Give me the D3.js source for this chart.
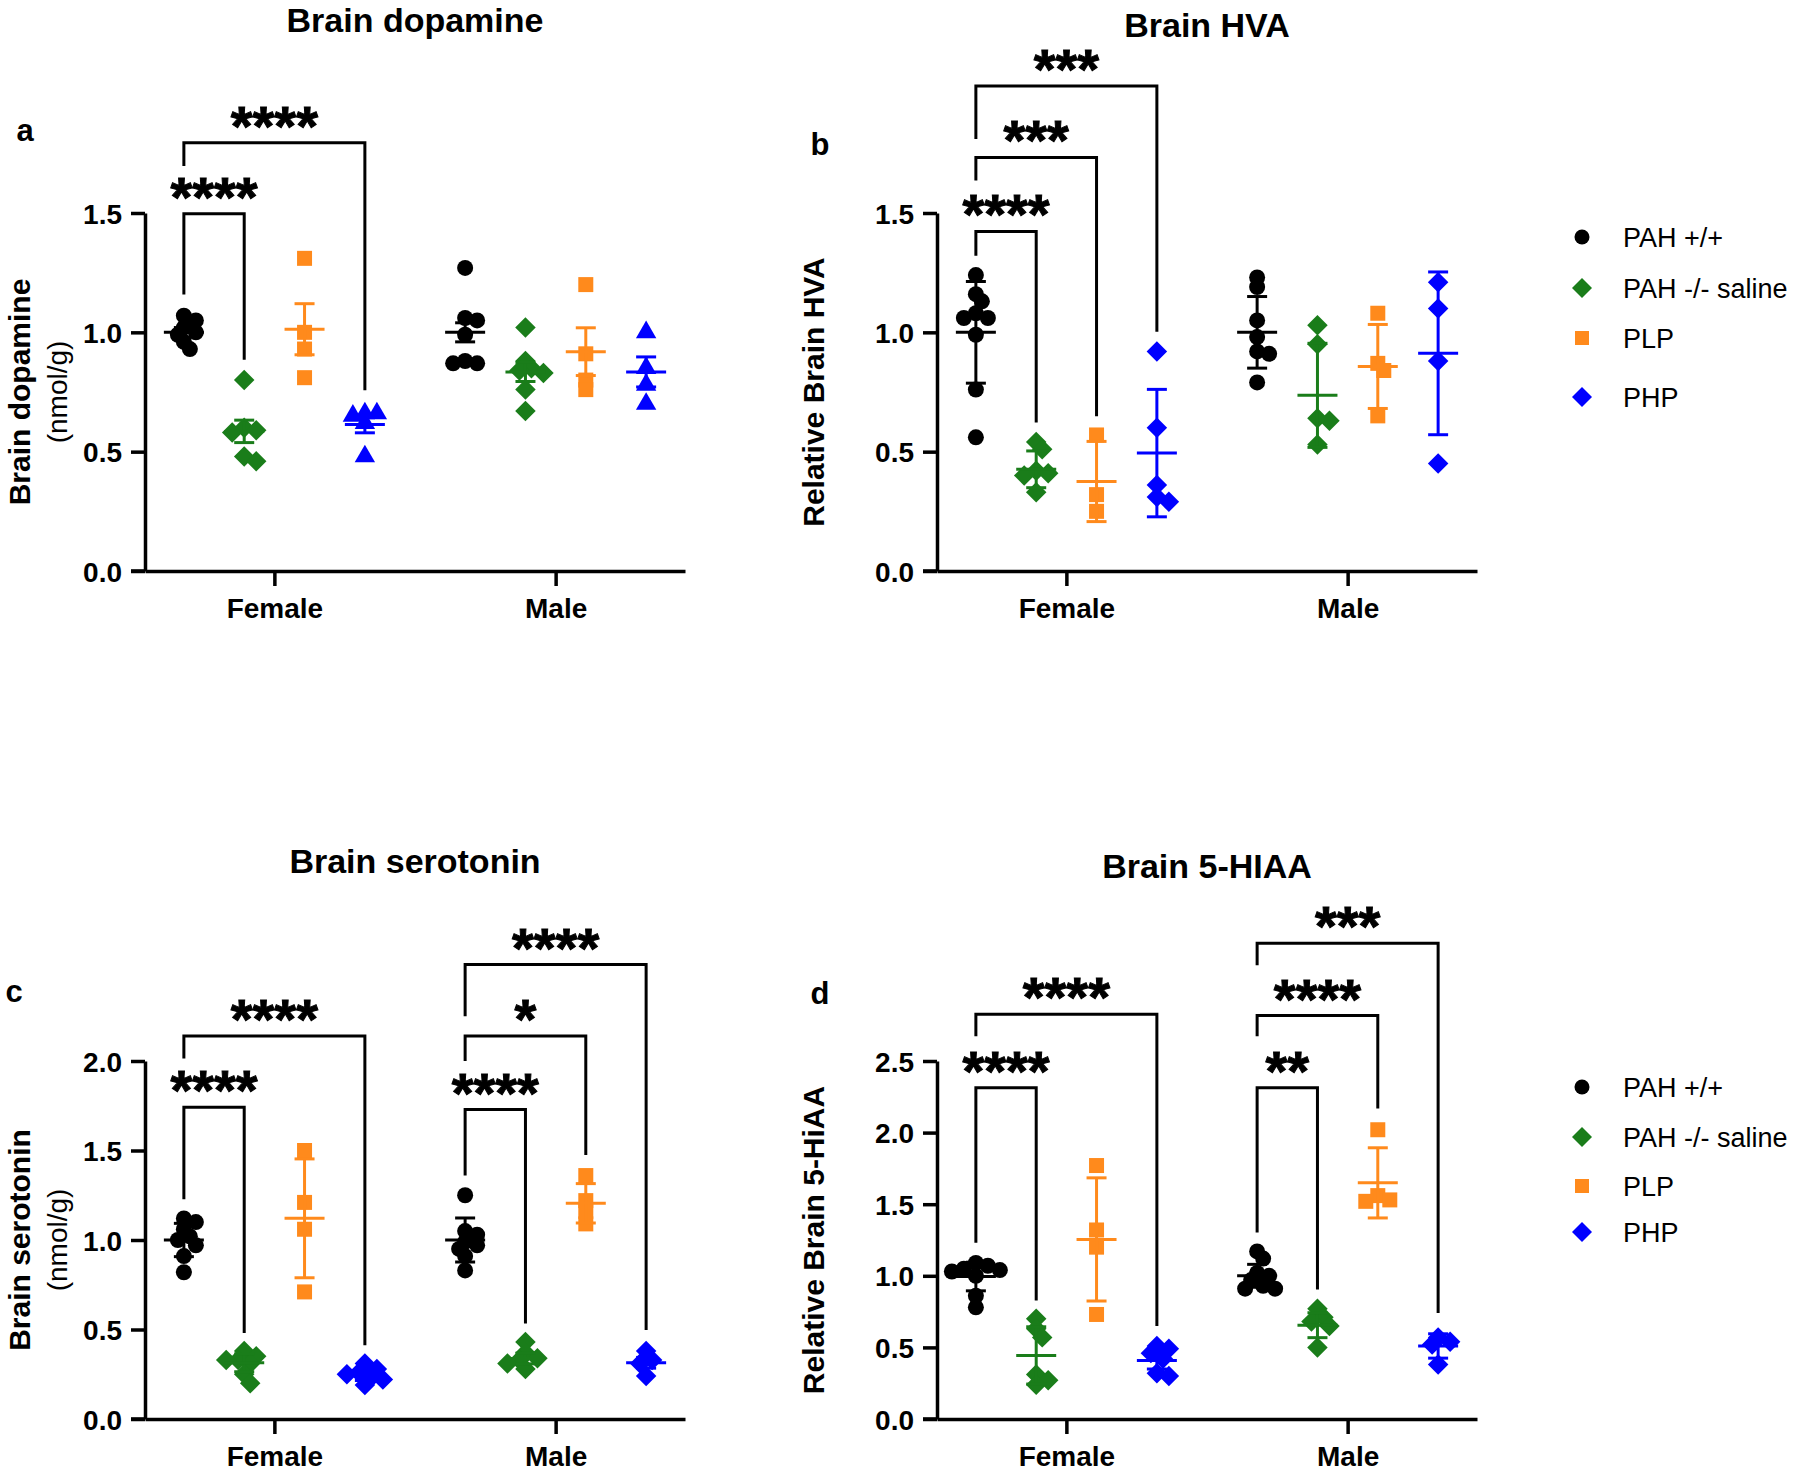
<!DOCTYPE html>
<html><head><meta charset="utf-8">
<script src="https://cdn.jsdelivr.net/npm/d3@7"></script>
<style>
body{margin:0;background:#fff;}
svg{display:block;}
text{font-family:"Liberation Sans", Arial, Helvetica, sans-serif;}
</style>
</head><body>
<svg id="chart" width="1800" height="1471"></svg>
<script>
// ---------------- DATA ----------------
const sexes = ["Female", "Male"];
const groups = ["PAH +/+", "PAH -/- saline", "PLP", "PHP"];
const groupColors = ["#000000", "#1a7d1a", "#ff8a1c", "#0000ff"];

// Panel a – Brain dopamine (nmol/g)
const dopamineFemale = [
  [1.07, 1.05, 1.02, 1.00, 0.99, 0.96, 0.93],
  [0.80, 0.60, 0.59, 0.58, 0.48, 0.46],
  [1.31, 1.00, 0.93, 0.81],
  [0.66, 0.66, 0.65, 0.62, 0.48]
];
const dopamineMale = [
  [1.27, 1.06, 1.05, 0.99, 0.88, 0.87, 0.87],
  [1.02, 0.88, 0.85, 0.84, 0.83, 0.76, 0.67],
  [1.20, 0.91, 0.80, 0.76],
  [1.00, 0.85, 0.78, 0.70]
];
const dopamineMean = [[1.00, 0.585, 1.013, 0.614], [1.00, 0.834, 0.919, 0.834]];
const dopamineErr  = [[0.02, 0.047, 0.107, 0.035], [0.04, 0.04, 0.10, 0.063]];
const dopamineTicks = [0, 0.5, 1.0, 1.5];
const dopamineBrackets = [
  {sex: "Female", from: 0, to: 1, label: "****", top: 1.497, l: 1.158, r: 0.885},
  {sex: "Female", from: 0, to: 3, label: "****", top: 1.794, l: 1.697, r: 0.757}
];

// Panel b – Relative brain HVA
const hvaFemale = [
  [1.24, 1.16, 1.13, 1.08, 1.06, 1.06, 0.99, 0.76, 0.56],
  [0.54, 0.51, 0.42, 0.41, 0.40, 0.33],
  [0.57, 0.32, 0.25],
  [0.92, 0.60, 0.36, 0.31, 0.29]
];
const hvaMale = [
  [1.23, 1.19, 1.05, 0.98, 0.92, 0.91, 0.79],
  [1.03, 0.95, 0.64, 0.63, 0.53],
  [1.08, 0.87, 0.84, 0.65],
  [1.21, 1.10, 0.88, 0.45]
];
const hvaMean = [[1.00, 0.426, 0.375, 0.494], [1.00, 0.736, 0.857, 0.912]];
const hvaErr  = [[0.213, 0.077, 0.168, 0.267], [0.15, 0.218, 0.176, 0.341]];
const hvaTicks = [0, 0.5, 1.0, 1.5];
const hvaBrackets = [
  {sex: "Female", from: 0, to: 1, label: "****", top: 1.423, l: 1.321, r: 0.622},
  {sex: "Female", from: 0, to: 2, label: "***",  top: 1.733, l: 1.636, r: 0.648},
  {sex: "Female", from: 0, to: 3, label: "***",  top: 2.032, l: 1.810, r: 1.002}
];

// Panel c – Brain serotonin (nmol/g)
const serotoninFemale = [
  [1.12, 1.10, 1.06, 1.02, 1.00, 0.97, 0.91, 0.82],
  [0.38, 0.35, 0.33, 0.33, 0.31, 0.25, 0.20],
  [1.50, 1.21, 1.06, 0.71],
  [0.31, 0.28, 0.26, 0.25, 0.23, 0.22, 0.19]
];
const serotoninMale = [
  [1.25, 1.05, 1.03, 0.99, 0.97, 0.95, 0.91, 0.83],
  [0.43, 0.37, 0.34, 0.33, 0.31, 0.28],
  [1.36, 1.22, 1.16, 1.09],
  [0.38, 0.33, 0.31, 0.24]
];
const serotoninMean = [[1.00, 0.314, 1.121, 0.245], [1.00, 0.338, 1.205, 0.314]];
const serotoninErr  = [[0.093, 0.05, 0.332, 0.03], [0.123, 0.03, 0.11, 0.03]];
const serotoninTicks = [0, 0.5, 1.0, 1.5, 2.0];
const serotoninBrackets = [
  {sex: "Female", from: 0, to: 1, label: "****", top: 1.741, l: 1.228, r: 0.481},
  {sex: "Female", from: 0, to: 3, label: "****", top: 2.139, l: 2.014, r: 0.412},
  {sex: "Male",   from: 0, to: 1, label: "****", top: 1.729, l: 1.360, r: 0.534},
  {sex: "Male",   from: 0, to: 2, label: "*",    top: 2.139, l: 2.000, r: 1.475},
  {sex: "Male",   from: 0, to: 3, label: "****", top: 2.539, l: 2.250, r: 0.497}
];

// Panel d – Relative brain 5-HIAA
const hiaaFemale = [
  [1.09, 1.07, 1.05, 1.04, 1.03, 1.00, 0.86, 0.78],
  [0.70, 0.63, 0.57, 0.31, 0.27, 0.24],
  [1.77, 1.32, 1.20, 0.73],
  [0.51, 0.49, 0.46, 0.42, 0.32, 0.30]
];
const hiaaMale = [
  [1.17, 1.12, 1.02, 1.00, 0.97, 0.93, 0.91, 0.91],
  [0.77, 0.71, 0.68, 0.65, 0.50],
  [2.02, 1.56, 1.53, 1.52],
  [0.57, 0.54, 0.52, 0.38]
];
const hiaaMean = [[0.995, 0.444, 1.254, 0.409], [1.00, 0.655, 1.649, 0.51]];
const hiaaErr  = [[0.10, 0.20, 0.43, 0.06], [0.08, 0.087, 0.245, 0.085]];
const hiaaTicks = [0, 0.5, 1.0, 1.5, 2.0, 2.5];
const hiaaBrackets = [
  {sex: "Female", from: 0, to: 1, label: "****", top: 2.313, l: 1.231, r: 0.828},
  {sex: "Female", from: 0, to: 3, label: "****", top: 2.826, l: 2.673, r: 0.649},
  {sex: "Male",   from: 0, to: 1, label: "**",   top: 2.313, l: 1.303, r: 0.905},
  {sex: "Male",   from: 0, to: 2, label: "****", top: 2.817, l: 2.673, r: 2.168},
  {sex: "Male",   from: 0, to: 3, label: "***",  top: 3.322, l: 3.169, r: 0.741}
];

// ---------------- LAYOUT ----------------
const FONT = '"Liberation Sans", Arial, Helvetica, sans-serif';
const panels = [
  {letter: "a", title: "Brain dopamine", ylab: ["Brain dopamine", "(nmol/g)"],
   data: [dopamineFemale, dopamineMale], mean: dopamineMean, err: dopamineErr,
   ticks: dopamineTicks, brackets: dopamineBrackets,
   L: 145, y0: 571, yTop: 213, letterPos: [25, 131], titleY: 20, shapes: ["circle", "diamond", "square", "triangle"]},
  {letter: "b", title: "Brain HVA", ylab: ["Relative Brain HVA"],
   data: [hvaFemale, hvaMale], mean: hvaMean, err: hvaErr,
   ticks: hvaTicks, brackets: hvaBrackets,
   L: 937, y0: 571, yTop: 213, letterPos: [820, 145], titleY: 25, shapes: ["circle", "diamond", "square", "diamond"]},
  {letter: "c", title: "Brain serotonin", ylab: ["Brain serotonin", "(nmol/g)"],
   data: [serotoninFemale, serotoninMale], mean: serotoninMean, err: serotoninErr,
   ticks: serotoninTicks, brackets: serotoninBrackets,
   L: 145, y0: 1419, yTop: 1061, letterPos: [14, 992], titleY: 861, shapes: ["circle", "diamond", "square", "diamond"]},
  {letter: "d", title: "Brain 5-HIAA", ylab: ["Relative Brain 5-HiAA"],
   data: [hiaaFemale, hiaaMale], mean: hiaaMean, err: hiaaErr,
   ticks: hiaaTicks, brackets: hiaaBrackets,
   L: 937, y0: 1419, yTop: 1061, letterPos: [820, 994], titleY: 866, shapes: ["circle", "diamond", "square", "diamond"]}
];
const legends = [
  {x: 1582, ys: [237, 288, 338, 397], shapes: ["circle", "diamond", "square", "diamond"]},
  {x: 1582, ys: [1087, 1137, 1186, 1232], shapes: ["circle", "diamond", "square", "diamond"]}
];
const AXW = 540;
const STAR_FS = 56;

const svg = d3.select("#chart");
svg.append("rect").attr("width", 1800).attr("height", 1471).attr("fill", "#fff");

function symbolPath(shape) {
  if (shape === "circle") return d3.symbol(d3.symbolCircle, Math.PI * 8 * 8)();
  if (shape === "square") return d3.symbol(d3.symbolSquare, 225)();
  if (shape === "diamond") return d3.symbol(d3.symbolSquare, 210)();
  if (shape === "triangle") return d3.symbol(d3.symbolTriangle, 180)();
}
function symbolRot(shape) { return shape === "diamond" ? 45 : 0; }

function swarm(values, yScale, minD, step) {
  const pts = values.map(v => ({v, y: yScale(v)})).sort((a, b) => a.y - b.y);
  const placed = [];
  for (const p of pts) {
    for (let k = 0; k < 30; k++) {
      const off = k === 0 ? 0 : (k % 2 ? 1 : -1) * Math.ceil(k / 2) * step;
      if (placed.every(q => (q.x - off) ** 2 + (q.y - p.y) ** 2 >= minD * minD)) { p.x = off; break; }
    }
    placed.push(p);
  }
  return placed;
}

panels.forEach(P => {
  const g = svg.append("g");
  const yMax = P.ticks[P.ticks.length - 1];
  const y = d3.scaleLinear().domain([0, yMax]).range([P.y0, P.yTop]);
  const xSex = d3.scalePoint().domain(sexes).range([P.L, P.L + AXW]).padding(0.46);
  const xGrp = d3.scalePoint().domain(d3.range(groups.length)).range([-90.5, 90.5]);
  const gx = (sex, i) => xSex(sex) + xGrp(i);

  // title
  g.append("text").attr("x", P.L + AXW / 2).attr("y", P.titleY + 12)
    .attr("text-anchor", "middle").attr("font-size", 34).attr("font-weight", "bold").text(P.title);
  // panel letter
  g.append("text").attr("x", P.letterPos[0]).attr("y", P.letterPos[1] + 10)
    .attr("text-anchor", "middle").attr("font-size", 31).attr("font-weight", "bold").text(P.letter);

  // y label
  const yc = (P.y0 + P.yTop) / 2;
  if (P.ylab.length === 2) {
    g.append("text").attr("transform", `translate(${19},${yc}) rotate(-90)`)
      .attr("text-anchor", "middle").attr("dominant-baseline", "central")
      .attr("font-size", 30).attr("font-weight", "bold").text(P.ylab[0]);
    g.append("text").attr("transform", `translate(${57},${yc}) rotate(-90)`)
      .attr("text-anchor", "middle").attr("dominant-baseline", "central")
      .attr("font-size", 28).text(P.ylab[1]);
  } else {
    g.append("text").attr("transform", `translate(${P.L - 124},${yc}) rotate(-90)`)
      .attr("text-anchor", "middle").attr("dominant-baseline", "central")
      .attr("font-size", 30).attr("font-weight", "bold").text(P.ylab[0]);
  }

  // y axis
  const ya = g.append("g").attr("transform", `translate(${P.L},0)`)
    .call(d3.axisLeft(y).tickValues(P.ticks).tickFormat(d3.format(".1f")).tickSize(14).tickSizeOuter(0).tickPadding(9));
  ya.selectAll("path,line").attr("stroke", "#000").attr("stroke-width", 3.5);
  ya.selectAll("text").attr("font-size", 28).attr("font-weight", "bold").attr("fill", "#000")
    .attr("font-family", FONT).attr("dy", "0.36em");

  // x axis
  const xa = g.append("g").attr("transform", `translate(0,${P.y0})`)
    .call(d3.axisBottom(xSex).tickSize(15).tickSizeOuter(0).tickPadding(12));
  xa.selectAll("path,line").attr("stroke", "#000").attr("stroke-width", 3.5);
  xa.selectAll("text").attr("font-size", 28).attr("font-weight", "bold").attr("fill", "#000")
    .attr("font-family", FONT);
  g.append("line").attr("x1", P.L - 14).attr("x2", P.L).attr("y1", P.y0).attr("y2", P.y0)
    .attr("stroke", "#000").attr("stroke-width", 3.5);

  // brackets
  P.brackets.forEach(b => {
    const x1 = gx(b.sex, b.from), x2 = gx(b.sex, b.to);
    g.append("path")
      .attr("d", `M${x1},${y(b.l)}V${y(b.top)}H${x2}V${y(b.r)}`)
      .attr("fill", "none").attr("stroke", "#000").attr("stroke-width", 3);
    g.append("text").attr("x", (x1 + x2) / 2).attr("y", y(b.top) - 26 + 0.5 * STAR_FS)
      .attr("text-anchor", "middle").attr("font-size", STAR_FS).attr("font-weight", "bold")
      .attr("stroke", "#000").attr("stroke-width", 1).text(b.label);
  });

  // points
  sexes.forEach((sex, si) => {
    P.data[si].forEach((vals, gi) => {
      const pts = swarm(vals, y, 9, 6);
      const cx = gx(sex, gi);
      g.append("g").selectAll("path").data(pts).join("path")
        .attr("d", symbolPath(P.shapes[gi]))
        .attr("transform", d => `translate(${cx + d.x},${d.y}) rotate(${symbolRot(P.shapes[gi])})`)
        .attr("fill", groupColors[gi]);
    });
  });

  // mean and error bars
  sexes.forEach((sex, si) => {
    groups.forEach((grp, gi) => {
      const cx = gx(sex, gi);
      const m = P.mean[si][gi], e = P.err[si][gi];
      const bg = g.append("g").attr("stroke", groupColors[gi]).attr("stroke-width", 3).attr("fill", "none");
      bg.append("line").attr("x1", cx).attr("x2", cx).attr("y1", y(m - e)).attr("y2", y(m + e));
      bg.append("line").attr("x1", cx - 10).attr("x2", cx + 10).attr("y1", y(m + e)).attr("y2", y(m + e));
      bg.append("line").attr("x1", cx - 10).attr("x2", cx + 10).attr("y1", y(m - e)).attr("y2", y(m - e));
      bg.append("line").attr("x1", cx - 20).attr("x2", cx + 20).attr("y1", y(m)).attr("y2", y(m));
    });
  });
});

// legends
legends.forEach(Lg => {
  const g = svg.append("g");
  groups.forEach((grp, i) => {
    const s = Lg.shapes[i];
    const size = s === "circle" ? Math.PI * 7.5 * 7.5 : s === "square" ? 196 : 200;
    const sym = s === "circle" ? d3.symbolCircle : d3.symbolSquare;
    g.append("path").attr("d", d3.symbol(sym, size)())
      .attr("transform", `translate(${Lg.x},${Lg.ys[i]}) rotate(${symbolRot(s)})`)
      .attr("fill", groupColors[i]);
    g.append("text").attr("x", Lg.x + 41).attr("y", Lg.ys[i] + 10)
      .attr("font-size", 27).attr("fill", "#000").text(grp);
  });
});
</script>
</body></html>
